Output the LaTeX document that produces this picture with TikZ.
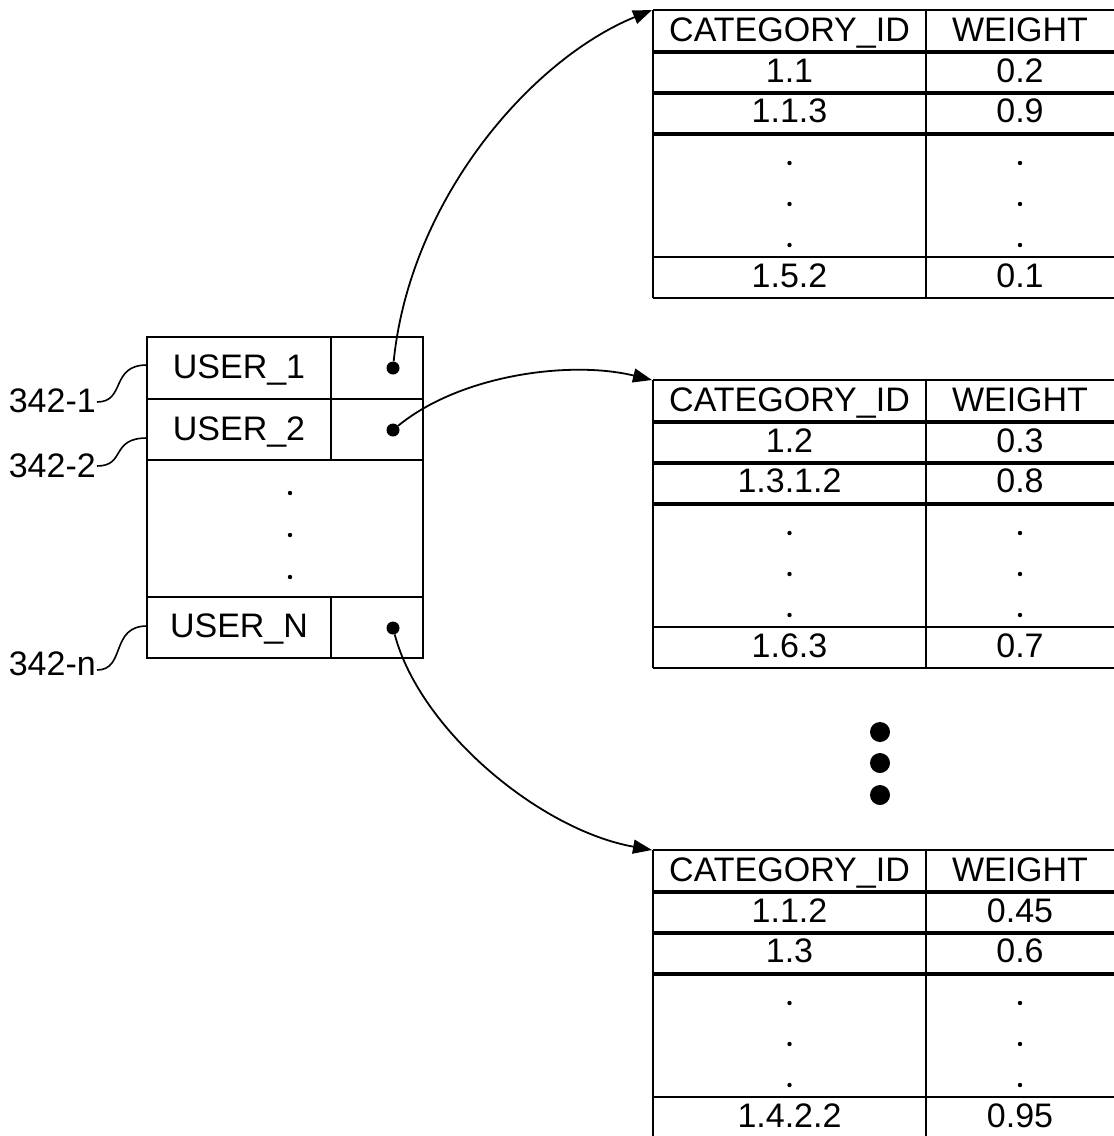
\documentclass[tikz,border=0pt]{standalone}
\usepackage{fontspec}
\setmainfont{Liberation Sans}
\usetikzlibrary{arrows.meta}
\begin{document}
\begin{tikzpicture}[x=1pt,y=-1pt,
  tbl/.style={line width=1.9pt},
  txt/.style={font=\fontsize{34}{38}\selectfont, inner sep=0pt, anchor=base},
  ptr/.style={circle, fill=black, inner sep=0pt, minimum size=13pt},
  sdot/.style={circle, fill=black, inner sep=0pt, minimum size=4.4pt},
  bigdot/.style={circle, fill=black, inner sep=0pt, minimum size=20pt},
  link/.style={line width=1.8pt, -{Triangle[length=19pt,width=14pt]}},
  lead/.style={line width=1.6pt}]
\useasboundingbox (0,0) rectangle (1114,1136);
\clip (0,0) rectangle (1114,1136);
\newcommand\cattable[8]{%
  \draw[tbl] (653,#2) -- (1120,#2)
    (653,#2+41) -- (1120,#2+41) (653,#2+43) -- (1120,#2+43)
    (653,#2+82) -- (1120,#2+82) (653,#2+84) -- (1120,#2+84)
    (653,#2+123) -- (1120,#2+123) (653,#2+125) -- (1120,#2+125)
    (653,#2+247) -- (1120,#2+247) (653,#2+288) -- (1120,#2+288)
    (653,#2) -- (653,#2+288) (926,#2) -- (926,#2+288);
  \coordinate (#1) at (652,#2);
  \node[txt] (#1h1) at (789.5,#2+31) {CATEGORY\_ID};
  \node[txt] (#1h2) at (1020,#2+31) {WEIGHT};
  \node[txt] (#1a1) at (789.5,#2+72) {#3};
  \node[txt] (#1a2) at (1020,#2+72) {#4};
  \node[txt] (#1b1) at (789.5,#2+112) {#5};
  \node[txt] (#1b2) at (1020,#2+112) {#6};
  \node[sdot] (#1d1) at (789.5,#2+153) {};
  \node[sdot] (#1d2) at (789.5,#2+194) {};
  \node[sdot] (#1d3) at (789.5,#2+235) {};
  \node[sdot] (#1e1) at (1020,#2+153) {};
  \node[sdot] (#1e2) at (1020,#2+194) {};
  \node[sdot] (#1e3) at (1020,#2+235) {};
  \node[txt] (#1c1) at (789.5,#2+277) {#7};
  \node[txt] (#1c2) at (1020,#2+277) {#8};
}
\cattable{ta}{10}{1.1}{0.2}{1.1.3}{0.9}{1.5.2}{0.1}
\cattable{tb}{380}{1.2}{0.3}{1.3.1.2}{0.8}{1.6.3}{0.7}
\cattable{tc}{850}{1.1.2}{0.45}{1.3}{0.6}{1.4.2.2}{0.95}
% user table
\draw[tbl] (147,337) rectangle (423,658)
  (147,399) -- (423,399) (147,460) -- (423,460) (147,597) -- (423,597)
  (331,337) -- (331,460) (331,597) -- (331,658);
\node[txt] (u1) at (239,378) {USER\_1};
\node[txt] (u2) at (239,440) {USER\_2};
\node[txt] (un) at (239,637) {USER\_N};
\node[sdot] (ud1) at (290,493) {};
\node[sdot] (ud2) at (290,535) {};
\node[sdot] (ud3) at (290,577) {};
\node[ptr] (p1) at (393,368) {};
\node[ptr] (p2) at (393,430) {};
\node[ptr] (pn) at (393,628) {};
% big ellipsis dots
\node[bigdot] (g1) at (880,732) {};
\node[bigdot] (g2) at (880,763) {};
\node[bigdot] (g3) at (880,795) {};
% labels
\node[txt, anchor=base east] (l1) at (96,412) {342-1};
\node[txt, anchor=base east] (l2) at (96,477) {342-2};
\node[txt, anchor=base east] (l3) at (96,675) {342-n};
\coordinate (e1) at (147,365);
\coordinate (e2) at (147,438);
\coordinate (e3) at (147,626);
\coordinate (s1) at (97,402);
\coordinate (s2) at (97,466);
\coordinate (s3) at (97,670);
\draw[lead] (s1) .. controls (126,402) and (110,365) .. (e1);
\draw[lead] (s2) .. controls (126,466) and (110,438) .. (e2);
\draw[lead] (s3) .. controls (126,670) and (110,626) .. (e3);
% links
\draw[link] (p1) .. controls (410,200) and (530,60) .. (ta);
\draw[link] (p2) .. controls (460,375) and (570,360) .. (tb);
\draw[link] (pn) .. controls (420,730) and (540,830) .. (tc);
\end{tikzpicture}
\end{document}
